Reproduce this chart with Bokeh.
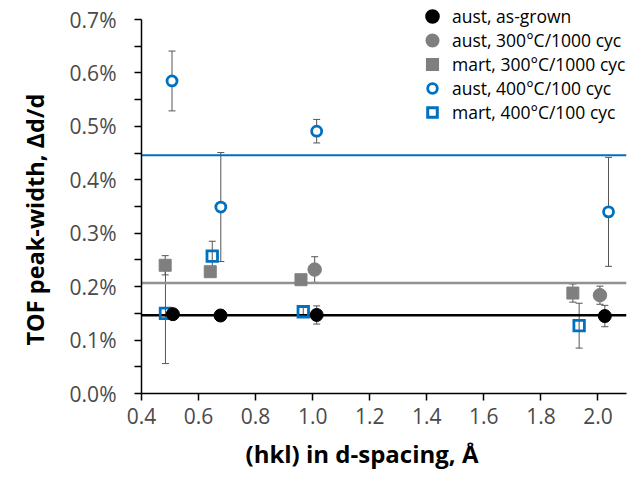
import numpy as np
from bokeh.plotting import figure
from bokeh.models import (ColumnDataSource, Whisker, TeeHead, Legend, LegendItem, Title,
                          FixedTicker, PrintfTickFormatter, Range1d)
from bokeh.embed import file_html
from bokeh.resources import INLINE

# ---------------- data (TOF peak width in %) ----------------
aust_grown_d = [0.510, 0.677, 1.014, 2.024]
aust_grown_w = [0.1485, 0.146, 0.147, 0.145]
aust_grown_e = [0.008, 0.008, 0.017, 0.020]

aust300_d = [1.007, 2.007]
aust300_w = [0.232, 0.184]
aust300_e = [0.024, 0.017]

mart300_d = [0.483, 0.641, 0.959, 1.912]
mart300_w = [0.240, 0.228, 0.213, 0.188]
mart300_e = [0.018, 0.008, 0.008, 0.017]

aust400_d = [0.507, 0.678, 1.014, 2.037]
aust400_w = [0.585, 0.349, 0.491, 0.340]
aust400_e = [0.056, 0.102, 0.022, 0.102]

mart400_d = [0.484, 0.648, 0.967, 1.934]
mart400_w = [0.150, 0.257, 0.153, 0.127]
mart400_e = [0.094, 0.028, 0.008, 0.042]

mean_levels = [0.1466, 0.207, 0.446]   # as-grown, 300 C, 400 C averages
x_limits = [0.4, 2.1]

x_ticks = [0.4, 0.6, 0.8, 1.0, 1.2, 1.4, 1.6, 1.8, 2.0]
y_ticks = [0.0, 0.1, 0.2, 0.3, 0.4, 0.5, 0.6, 0.7]
y_minor = [0.05, 0.15, 0.25, 0.35, 0.45, 0.55, 0.65]

labels = ["aust, as-grown", "aust, 300°C/1000 cyc", "mart, 300°C/1000 cyc",
          "aust, 400°C/100 cyc", "mart, 400°C/100 cyc"]
x_title = "(hkl) in d-spacing, Å"
y_title = "TOF peak-width, Δd/d"

BLUE = "#0070C0"
GRAY = "#7f7f7f"
GRAY_LINE = "#919191"
ERR = "#555555"
FONT = "Open Sans"

# y range extends a little above 0.7% so the legend (drawn inside the frame) is not clipped
p = figure(width=636, height=479, output_backend="svg", toolbar_location=None,
           x_range=Range1d(0.4, 2.1), y_range=Range1d(0.0, 0.73),
           min_border_left=139, min_border_right=10, min_border_top=3, min_border_bottom=86)
p.outline_line_color = None
p.xgrid.visible = False
p.ygrid.visible = False

# axes
for ax in (p.xaxis[0], p.yaxis[0]):
    ax.axis_line_color = "black"
    ax.axis_line_width = 1.5
    ax.major_tick_line_color = "black"
    ax.major_tick_line_width = 1.5
    ax.major_tick_in = 0
    ax.major_tick_out = 7
    ax.major_label_text_font = FONT
    ax.major_label_text_font_size = "21px"
    ax.major_label_text_color = "#4a4a4a"

p.xaxis.ticker = FixedTicker(ticks=x_ticks, minor_ticks=[])
p.xaxis.formatter = PrintfTickFormatter(format="%.1f")
p.xaxis.major_label_standoff = 7
p.xaxis.minor_tick_line_color = None

p.yaxis.bounds = (0.0, 0.7)
p.yaxis.ticker = FixedTicker(ticks=y_ticks, minor_ticks=y_minor)
p.yaxis.formatter = PrintfTickFormatter(format="%.1f%%")
p.yaxis.major_label_standoff = 18
p.yaxis.minor_tick_in = 0
p.yaxis.minor_tick_out = 7
p.yaxis.minor_tick_line_color = "black"
p.yaxis.minor_tick_line_width = 1.5

# axis titles
p.add_layout(Title(text=x_title, align="left", offset=104, standoff=16,
                   text_font=FONT, text_font_style="bold", text_font_size="24px",
                   text_color="black"), "below")
p.add_layout(Title(text=y_title, align="left", offset=48, standoff=32,
                   text_font=FONT, text_font_style="bold", text_font_size="23.5px",
                   text_color="black"), "left")

# mean lines
for lvl, col, lw in zip(mean_levels, ["black", GRAY_LINE, BLUE], [2.5, 2.5, 2]):
    p.line(x=x_limits, y=[lvl, lvl], line_color=col, line_width=lw)

# error bars
def add_err(d, w, e):
    src = ColumnDataSource(dict(x=d, upper=[a + b for a, b in zip(w, e)],
                                lower=[a - b for a, b in zip(w, e)]))
    wk = Whisker(source=src, base="x", upper="upper", lower="lower", level="underlay",
                 line_color=ERR, line_width=1,
                 upper_head=TeeHead(size=7, line_color=ERR, line_width=1),
                 lower_head=TeeHead(size=7, line_color=ERR, line_width=1))
    p.add_layout(wk)

for d, w, e in [(aust_grown_d, aust_grown_w, aust_grown_e), (aust300_d, aust300_w, aust300_e),
                (mart300_d, mart300_w, mart300_e), (aust400_d, aust400_w, aust400_e),
                (mart400_d, mart400_w, mart400_e)]:
    add_err(d, w, e)

# markers
p.scatter(mart300_d, mart300_w, marker="square", size=12,
          fill_color=GRAY, line_color=GRAY, line_width=1)
p.scatter(aust300_d, aust300_w, marker="circle", size=13.5,
          fill_color=GRAY, line_color=GRAY, line_width=1)
p.scatter(mart400_d, mart400_w, marker="square", size=10.5, line_join="miter",
          fill_color=None, line_color=BLUE, line_width=2.8)
p.scatter(aust400_d, aust400_w, marker="circle", size=10,
          fill_color="white", line_color=BLUE, line_width=2.8)
p.scatter(aust_grown_d, aust_grown_w, marker="circle", size=13,
          fill_color="black", line_color="black", line_width=1)

# legend proxies (not drawn in the plot: NaN position); legend sizes markers from box
nan = np.array([np.nan])
lg_ag = p.scatter(nan, nan, marker="circle", fill_color="black", line_color="black", line_width=5)
lg_a3 = p.scatter(nan, nan, marker="circle", fill_color=GRAY, line_color=GRAY, line_width=4.4)
lg_m3 = p.scatter(nan, nan, marker="square", fill_color=GRAY, line_color=GRAY, line_width=3.5,
                  line_join="miter")
lg_a4 = p.scatter(nan, nan, marker="circle", fill_color="white", line_color=BLUE, line_width=2.8)
lg_m4 = p.scatter(nan, nan, marker="square", fill_color="white", line_color=BLUE, line_width=3,
                  line_join="miter")

legend = Legend(items=[LegendItem(label=labels[0], renderers=[lg_ag]),
                       LegendItem(label=labels[1], renderers=[lg_a3]),
                       LegendItem(label=labels[2], renderers=[lg_m3]),
                       LegendItem(label=labels[3], renderers=[lg_a4]),
                       LegendItem(label=labels[4], renderers=[lg_m4])],
                location=(279, 269), padding=0, margin=0, spacing=0,
                glyph_width=24, glyph_height=24, label_height=24, label_standoff=8,
                label_text_font=FONT, label_text_font_size="17.5px",
                label_text_color="black",
                background_fill_alpha=0, border_line_color=None)
p.add_layout(legend, "center")

open("out.html", "w").write(file_html(p, INLINE))
